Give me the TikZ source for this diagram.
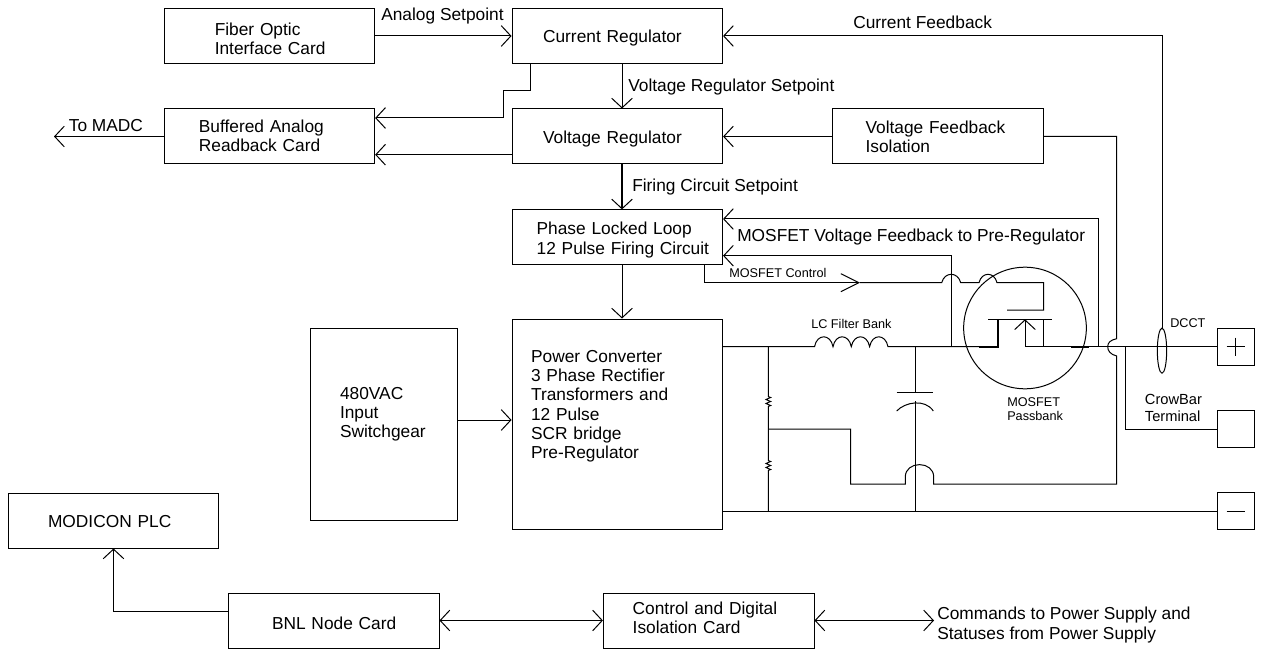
\documentclass[tikz,border=0pt]{standalone}
\usepackage{fontspec}
\setmainfont{Liberation Sans}
\usetikzlibrary{arrows.meta,shapes.geometric}
\newcommand{\ind}[3]{\hspace*{#1\dimexpr 0.75pt\relax}\raisebox{#2\dimexpr 0.75pt\relax}[0pt][0pt]{\renewcommand{\arraystretch}{1}\begin{tabular}[c]{@{}l@{}}#3\end{tabular}}}
\tikzset{
  x=0.75pt, y=-0.75pt,
  >={Straight Barb[length=7.2pt,width=15.5pt,line width=0.75pt]},
  wire/.style={draw=black,line width=0.75pt},
  heavy/.style={draw=black,line width=1.5pt},
  bigfont/.style={font=\fontsize{13pt}{14.4pt}\selectfont},
  box/.style 2 args={draw=black,line width=0.75pt,rectangle,inner sep=0pt,
    minimum width=#1*0.75pt,minimum height=#2*0.75pt,text width=#1*0.75pt,
    align=left,bigfont},
  term/.style={draw=black,line width=0.75pt,rectangle,inner sep=0pt,
    minimum width=27.75pt,minimum height=27.75pt},
  lbl/.style={anchor=base west,inner sep=0pt,bigfont},
  small/.style={anchor=base west,inner sep=0pt,align=left,
    font=\fontsize{9.5pt}{10.5pt}\selectfont},
  mid/.style={anchor=west,inner sep=0pt,align=left,
    font=\fontsize{11pt}{12.8pt}\selectfont},
}
\begin{document}
\begin{tikzpicture}
\useasboundingbox (0,0) rectangle (1261,649);
% boxes
\node[box={210.5}{54.6}] (fiber) at (269.4,36) {\ind{50.6}{-9.2}{Fiber Optic\\Interface Card}};
\node[box={210.5}{54.6}] (creg) at (617.3,36) {\ind{31}{-6.7}{Current Regulator}};
\node[box={210.5}{55}] (buff) at (269.4,136.5) {\ind{34.7}{-5.7}{Buffered Analog\\Readback Card}};
\node[box={210.5}{55}] (vreg) at (617.3,136.5) {\ind{31}{-7.2}{Voltage Regulator}};
\node[box={210.5}{55}] (vfb) at (937.8,136.5) {\ind{33}{-6.7}{Voltage Feedback\\Isolation}};
\node[box={210.5}{54.6}] (pll) at (617.3,237.2) {\ind{24.6}{-7.5}{Phase Locked Loop\\12 Pulse Firing Circuit}};
\node[box={210.5}{210}] (pc) at (617.3,424) {\ind{19}{13.3}{Power Converter\\3 Phase Rectifier\\Transformers and\\12 Pulse\\SCR bridge\\Pre-Regulator}};
\node[box={147}{192}] (sw) at (383.5,424) {\ind{30}{5.3}{480VAC\\Input\\Switchgear}};
\node[box={210.3}{55}] (plc) at (113.5,520.5) {\ind{39.7}{-7.2}{MODICON PLC}};
\node[box={211}{55}] (bnl) at (333.5,620.5) {\ind{44}{-9.2}{BNL Node Card}};
\node[box={210.6}{55}] (ctl) at (708.7,620.5) {\ind{29.3}{-3.7}{Control and Digital\\Isolation Card}};
\node[term] (plus) at (1235.5,346.7) {};
\node[term] (crow) at (1235.5,429) {};
\node[term] (minus) at (1235.5,511.3) {};
\node[draw=black,line width=0.75pt,ellipse,inner sep=0pt,minimum width=92pt,minimum height=91.2pt] (mos) at (1025,328) {};
\node[draw=black,line width=0.75pt,ellipse,inner sep=0pt,minimum width=7pt,minimum height=33.8pt] (dcct) at (1162,350.7) {};
% labels
\node[lbl] (tAnalog) at (381,21) {Analog Setpoint};
\node[lbl] (tMadc) at (68.6,132) {To MADC};
\node[lbl] (tCurr) at (853,29) {Current Feedback};
\node[lbl] (tVset) at (628,92) {Voltage Regulator Setpoint};
\node[lbl] (tFire) at (632,192) {Firing Circuit Setpoint};
\node[lbl] (tMfb) at (737,242) {MOSFET Voltage Feedback to Pre-Regulator};
\node[small] (tMctl) at (729,277.5) {MOSFET Control};
\node[small] (tLC) at (811,328.5) {LC Filter Bank};
\node[small] (tDcct) at (1170,327.5) {DCCT};
\node[mid,font=\fontsize{9.5pt}{10.5pt}\selectfont] (tPass) at (1007,408.7) {MOSFET\\Passbank};
\node[mid] (tCrow) at (1144.7,408.3) {CrowBar\\Terminal};
\node[lbl,anchor=west,align=left] (tCmd) at (937,625) {Commands to Power Supply and\\Statuses from Power Supply};
% connector coordinates
\coordinate (xV) at (622,0);
\coordinate (xT) at (530,90.7);
\coordinate (xM) at (503,90.7);
\coordinate (xS) at (503,118);
\coordinate (yB) at (0,154.7);
\coordinate (madc) at (54,136.5);
\coordinate (yF1) at (0,219);
\coordinate (yF2) at (0,255.7);
\coordinate (fbA) at (1098,346.7);
\coordinate (fbB) at (951.5,346.7);
\coordinate (ctlS) at (704.3,0);
\coordinate (ctlA) at (860,282.7);
\coordinate (b1L) at (941.7,282.7);
\coordinate (b1R) at (960.7,282.7);
\coordinate (b2L) at (979,282.7);
\coordinate (b2R) at (997,282.7);
\coordinate (gC) at (1043.5,282.7);
\coordinate (gE) at (1007,310);
\coordinate (barL) at (988.4,319.3);
\coordinate (barR) at (1052.4,319.3);
\coordinate (dT) at (997.7,319.3);
\coordinate (dB) at (997.7,346.7);
\coordinate (sT) at (1025,319.3);
\coordinate (sB) at (1025,346.7);
\coordinate (rT) at (1043.5,319.3);
\coordinate (rB) at (1043.5,346.7);
\coordinate (bus0) at (722.5,346.7);
\coordinate (l1) at (814.5,346.7);
\coordinate (l2) at (833,346.7);
\coordinate (l3) at (851.3,346.7);
\coordinate (l4) at (869.6,346.7);
\coordinate (l5) at (888,346.7);
\coordinate (thA) at (979,346.7);
\coordinate (thB) at (1070.7,346.7);
\coordinate (thC) at (1088.5,346.7);
\coordinate (hopT) at (1116.7,338.7);
\coordinate (hopM) at (1107.7,346.7);
\coordinate (hopB) at (1116.7,356);
\coordinate (retR) at (1116.7,484);
\coordinate (archR) at (933.7,484);
\coordinate (archL) at (905.3,484);
\coordinate (retL) at (850.7,484);
\coordinate (retT) at (850.7,429);
\coordinate (rJ) at (768.3,429);
\coordinate (rTop) at (768.3,346.7);
\coordinate (rBot) at (768.3,511.3);
\coordinate (capT) at (915,346.7);
\coordinate (capB) at (915,511.3);
\coordinate (cp1) at (915,392.3);
\coordinate (cp2) at (915,401);
\coordinate (crowT) at (1125.8,346.7);
\coordinate (bnlY) at (0,611.7);
\coordinate (cmdE) at (934,0);
% block connectors
\draw[wire,->] (fiber.east) -- (creg.west);
\draw[wire,->] (creg.south -| xV) -- (vreg.north -| xV);
\draw[heavy,->] (vreg.south -| xV) -- (pll.north -| xV);
\draw[wire,->] (pll.south -| xV) -- (pc.north -| xV);
\draw[wire,->] (creg.south -| xT) -- (xT) -- (xM) -- (xS) -- (buff.east |- xS);
\draw[wire,->] (vreg.west |- yB) -- (buff.east |- yB);
\draw[wire,->] (vfb.west) -- (vreg.east);
\draw[wire,->] (buff.west) -- (madc);
\draw[wire,->] (dcct.north) |- (creg.east);
\draw[wire,->] (sw.east |- 0,420) -- (pc.west |- 0,420);
\draw[wire,->] (bnl.west |- bnlY) -| (plc.south);
\draw[wire,<->] (bnl.east) -- (ctl.west);
\draw[wire,<->] (ctl.east) -- (ctl.east -| cmdE);
% feedback to PLL
\draw[wire,->] (fbA) |- (pll.east |- yF1);
\draw[wire,->] (fbB) |- (pll.east |- yF2);
% MOSFET control
\draw[wire,-{Straight Barb[length=13.5pt,width=13.5pt,line width=0.75pt]}] (pll.south -| ctlS) |- (ctlA);
\draw[wire] (ctlA) -- (b1L) .. controls (944.5,271.5) and (957.9,271.5) .. (b1R) -- (b2L)
  .. controls (981.7,271.5) and (994.3,271.5) .. (b2R) -- (gC) -- (rT |- gE) -- (gE);
% MOSFET symbol
\draw[wire] (barL) -- (barR);
\draw[wire] (rT) -- (rB);
\draw[wire,->] (sB) -- (sT);
\draw[heavy] (thA) -- (dB) -- (dT);
\draw[heavy] (thB) -- (thC);
% main bus
\draw[wire] (bus0) -- (l1)
  .. controls (817,333.5) and (830.5,333.5) .. (l2)
  .. controls (835.5,333.5) and (848.8,333.5) .. (l3)
  .. controls (853.8,333.5) and (867.1,333.5) .. (l4)
  .. controls (872.1,333.5) and (885.5,333.5) .. (l5)
  -- (dB);
\draw[wire] (sB) -- (plus.west);
\draw[wire] (pc.east |- minus.west) -- (minus.west);
\draw[wire] (crowT) |- (crow.west);
% voltage sense return
\draw[wire] (vfb.east) -| (hopT) .. controls (1110.5,340) and (1107.7,342.5) .. (hopM)
  .. controls (1107.7,351) and (1110.5,354.5) .. (hopB) -- (retR) -- (archR)
  -- (933.7,477) .. controls (933.7,460.5) and (905.3,460.5) .. (905.3,477)
  -- (archL) -- (retL) -- (retT) -- (rJ);
% divider with resistors
\draw[wire] (rTop) -- (768.3,396.5) -- ++(2.3,1) -- ++(-4.6,2) -- ++(4.6,2) -- ++(-4.6,2) -- ++(4.6,2) -- ++(-2.3,1)
  -- (768.3,460.5) -- ++(2.3,1) -- ++(-4.6,2) -- ++(4.6,2) -- ++(-4.6,2) -- ++(4.6,2) -- ++(-2.3,1) -- (rBot);
% capacitor
\draw[wire] (capT) -- (cp1);
\draw[wire] (cp2) -- (capB);
\draw[wire] (896.7,392.3) -- (933.3,392.3);
\draw[wire] (896.7,411) .. controls (905,402) and (925,398.5) .. (933.3,411);
% terminal signs
\draw[wire] (plus.center) +(-9,0) -- +(9,0) +(0,-9) -- +(0,9);
\draw[wire] (minus.center) +(-9,0) -- +(9,0);
\end{tikzpicture}
\end{document}
